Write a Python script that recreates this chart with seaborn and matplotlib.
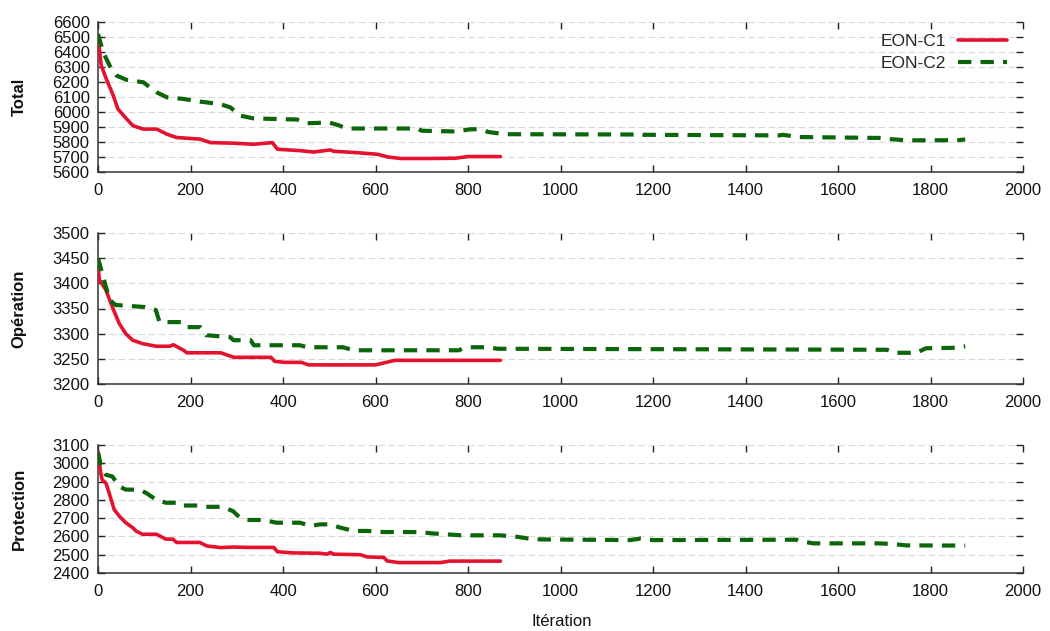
import numpy as np
import pandas as pd
import matplotlib
matplotlib.use("Agg")
import matplotlib.pyplot as plt
import seaborn as sns

# ---------------- data ----------------
series_names = ["EON-C1", "EON-C2"]
panel_labels = ["Total", "Opération", "Protection"]
x_ticks = [0, 200, 400, 600, 800, 1000, 1200, 1400, 1600, 1800, 2000]

total_c1_x = [0, 7, 18, 33, 43, 62, 76, 98, 127, 149, 170, 221, 243, 293, 337, 377, 388,
              438, 466, 502, 510, 560, 605, 627, 655, 715, 773, 800, 870]
total_c1_y = [6500, 6310, 6220, 6110, 6020, 5953, 5908, 5886, 5886, 5852, 5830, 5819, 5796,
              5792, 5785, 5796, 5752, 5742, 5733, 5747, 5738, 5729, 5718, 5700, 5690, 5690,
              5692, 5703, 5703]
total_c2_x = [0, 11, 25, 40, 62, 98, 127, 149, 185, 221, 264, 286, 308, 337, 430, 452, 500,
              520, 537, 690, 700, 775, 805, 825, 845, 880, 1160, 1170, 1180, 1474, 1480, 1517,
              1690, 1710, 1748, 1860, 1875]
total_c2_y = [6520, 6400, 6310, 6243, 6214, 6198, 6131, 6098, 6087, 6069, 6053, 6031, 5975,
              5957, 5950, 5925, 5930, 5912, 5890, 5890, 5875, 5870, 5885, 5885, 5866, 5852,
              5850, 5856, 5848, 5844, 5848, 5833, 5827, 5820, 5811, 5812, 5817]

op_c1_x = [0, 3, 17, 31, 46, 60, 75, 97, 126, 155, 163, 185, 192, 265, 294, 374, 382, 404,
           440, 455, 600, 642, 870]
op_c1_y = [3433, 3407, 3387, 3353, 3320, 3300, 3287, 3280, 3275, 3275, 3278, 3267, 3262,
           3262, 3253, 3253, 3245, 3243, 3243, 3238, 3238, 3247, 3247]
op_c2_x = [0, 15, 25, 38, 100, 125, 133, 183, 192, 221, 234, 286, 293, 330, 337, 437, 452,
           530, 552, 780, 795, 840, 865, 1706, 1720, 1770, 1790, 1860, 1875]
op_c2_y = [3450, 3400, 3367, 3357, 3353, 3347, 3323, 3323, 3313, 3313, 3297, 3293, 3287,
           3287, 3277, 3277, 3273, 3273, 3267, 3267, 3273, 3273, 3270, 3268, 3262, 3262,
           3271, 3272, 3275]

prot_c1_x = [0, 6, 9, 17, 24, 35, 46, 60, 75, 82, 96, 126, 133, 147, 162, 170, 220, 235,
             265, 292, 322, 380, 388, 422, 480, 495, 502, 510, 567, 582, 618, 625, 650,
             740, 760, 870]
prot_c1_y = [3064, 2946, 2910, 2892, 2838, 2747, 2711, 2675, 2648, 2630, 2612, 2612, 2603,
             2585, 2585, 2567, 2567, 2548, 2539, 2542, 2540, 2540, 2516, 2510, 2508, 2503,
             2512, 2503, 2500, 2488, 2485, 2466, 2457, 2457, 2465, 2465]
prot_c2_x = [0, 6, 17, 31, 46, 60, 89, 104, 125, 147, 176, 183, 220, 234, 270, 292, 307,
             321, 357, 386, 437, 459, 480, 502, 524, 553, 582, 618, 697, 720, 785, 870,
             906, 942, 1150, 1172, 1200, 1510, 1517, 1547, 1690, 1720, 1748, 1875]
prot_c2_y = [3060, 2990, 2937, 2928, 2874, 2856, 2856, 2838, 2802, 2784, 2784, 2769, 2769,
             2762, 2762, 2738, 2702, 2690, 2690, 2675, 2675, 2657, 2666, 2666, 2648, 2630,
             2630, 2624, 2624, 2617, 2606, 2606, 2598, 2584, 2580, 2588, 2580, 2582, 2575,
             2562, 2562, 2558, 2551, 2550]

total_yticks = [5600, 5700, 5800, 5900, 6000, 6100, 6200, 6300, 6400, 6500, 6600]
op_yticks = [3200, 3250, 3300, 3350, 3400, 3450, 3500]
prot_yticks = [2400, 2500, 2600, 2700, 2800, 2900, 3000, 3100]

panels = [
    (panel_labels[0], total_c1_x, total_c1_y, total_c2_x, total_c2_y, total_yticks),
    (panel_labels[1], op_c1_x, op_c1_y, op_c2_x, op_c2_y, op_yticks),
    (panel_labels[2], prot_c1_x, prot_c1_y, prot_c2_x, prot_c2_y, prot_yticks),
]

# ---------------- style ----------------
sns.set_theme(style="ticks")
plt.rcParams["font.family"] = ["Liberation Sans", "DejaVu Sans"]

RED = "#e4122e"
GREEN = "#0b650b"

W, H = 1050, 631
fig = plt.figure(figsize=(W / 100, H / 100), dpi=100)
fig.patch.set_facecolor("white")

# pixel boxes (left, top, right, bottom)
boxes = [(98, 22, 1023, 172), (98, 233, 1023, 384), (98, 445, 1023, 573)]

for i, ((label, x1, y1, x2, y2, yt), (l, t, r, b)) in enumerate(zip(panels, boxes)):
    ax = fig.add_axes([l / W, 1 - b / H, (r - l) / W, (b - t) / H])
    ax.set_facecolor("white")
    d1 = pd.DataFrame({"Itération": x1, "value": y1, "series": series_names[0]})
    d2 = pd.DataFrame({"Itération": x2, "value": y2, "series": series_names[1]})
    sns.lineplot(data=d1, x="Itération", y="value", ax=ax, color=RED, linewidth=2.6,
                 estimator=None, sort=False, label=series_names[0], zorder=3)
    sns.lineplot(data=d2, x="Itération", y="value", ax=ax, color=GREEN, linewidth=3.0,
                 estimator=None, sort=False, label=series_names[1], zorder=4)
    ax.lines[1].set_dashes([3.2, 2.2])
    ax.lines[1].set_solid_capstyle("butt")

    ax.set_xlim(0, 2000)
    ax.set_ylim(yt[0], yt[-1])
    ax.set_xticks(x_ticks)
    ax.set_yticks(yt)
    ax.set_xlabel("")
    ax.set_ylabel(label, fontsize=12, fontweight="bold", color="#111111")
    ax.yaxis.label.set_verticalalignment("center")
    ax.yaxis.set_label_coords((19 - l) / (r - l), 0.5)

    ax.grid(axis="y", color="#d9d9d9", linestyle=(0, (6, 3)), linewidth=0.8)
    ax.grid(axis="x", visible=False)
    for side in ["top", "right"]:
        ax.spines[side].set_visible(False)
    for side in ["left", "bottom"]:
        ax.spines[side].set_color("#333333")
        ax.spines[side].set_linewidth(1.1)

    ax.tick_params(axis="both", which="major", direction="in", length=5, width=1.0,
                   color="#222222", top=True, right=True, labelsize=12, labelcolor="#111111")
    ax.tick_params(axis="y", pad=6)
    ax.tick_params(axis="x", pad=8)

    if i == 0:
        leg = ax.legend(loc="upper right", bbox_to_anchor=(0.99, 0.965), frameon=False,
                        markerfirst=False, fontsize=12.5, handlelength=2.8,
                        handletextpad=0.7, labelspacing=0.35, borderaxespad=0)
        leg.get_lines()[1].set_dashes([3.2, 2.2])
    else:
        if ax.get_legend() is not None:
            ax.get_legend().remove()

fig.text(562 / W, 1 - 622 / H, "Itération", ha="center", va="center", fontsize=12,
         color="#111111")

fig.savefig("out.png", dpi=100, facecolor="white")
